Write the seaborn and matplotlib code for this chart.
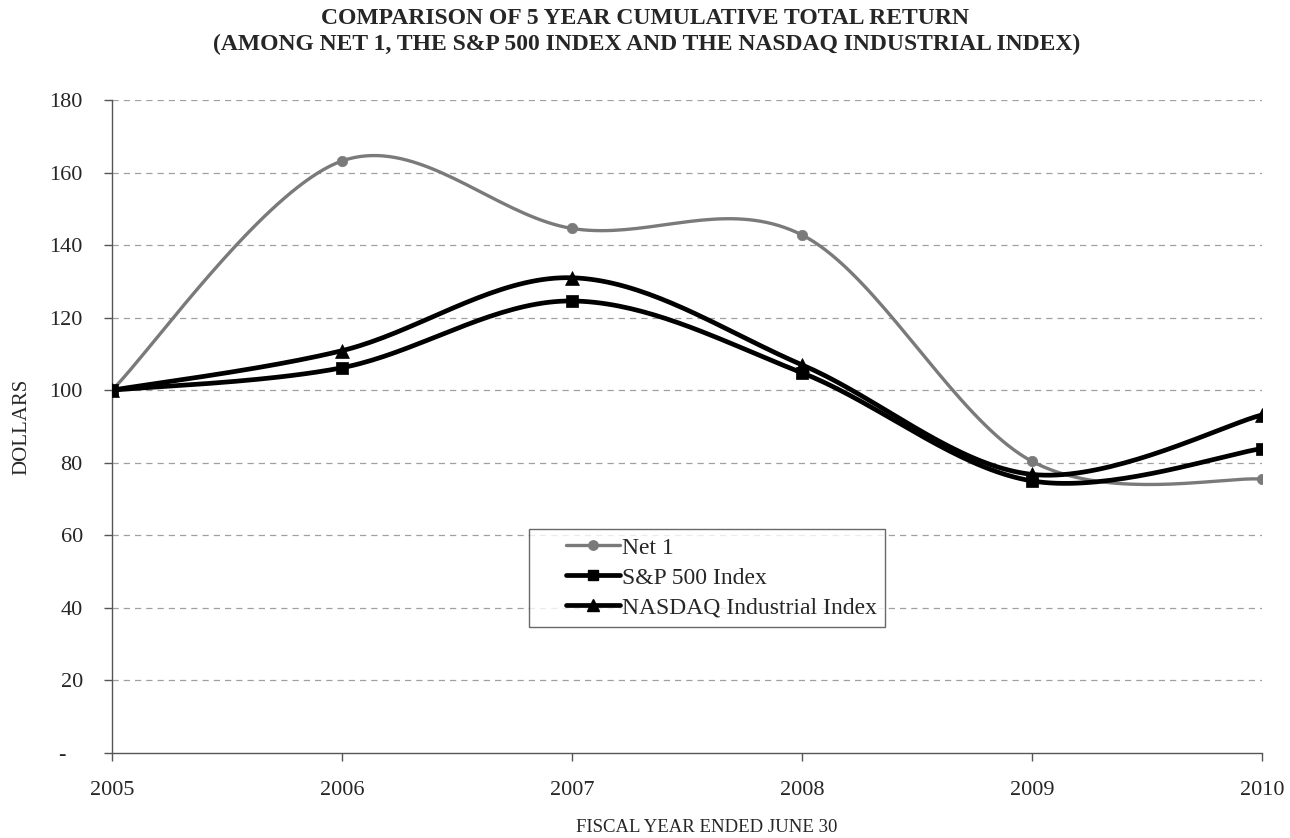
import numpy as np
import pandas as pd
import matplotlib
matplotlib.use("Agg")
import matplotlib.pyplot as plt
from matplotlib.lines import Line2D
from matplotlib.legend_handler import HandlerLine2D
import seaborn as sns

years = [2005, 2006, 2007, 2008, 2009, 2010]
net1 = [100.0, 163.2, 144.6, 142.8, 80.4, 75.5]
sp500 = [100.0, 106.2, 124.6, 104.8, 75.0, 83.9]
nasdaq = [100.0, 110.9, 131.0, 107.0, 76.8, 93.2]
series_names = ["Net 1", "S&P 500 Index", "NASDAQ Industrial Index"]
y_ticks = [0, 20, 40, 60, 80, 100, 120, 140, 160, 180]
y_tick_labels = ["-   ", "20", "40", "60", "80", "100", "120", "140", "160", "180"]

sns.set_theme(style="white")
plt.rcParams["font.family"] = ["Liberation Serif", "DejaVu Serif"]

def smooth(xs, ys, n=40):
    # Excel-like smoothed line (Bezier through the data points)
    xs = np.asarray(xs, float); ys = np.asarray(ys, float)
    px = np.concatenate([[xs[0]], xs, [xs[-1]]])
    py = np.concatenate([[ys[0]], ys, [ys[-1]]])
    ox, oy = [], []
    for i in range(1, len(px) - 2):
        p0, p1, p2, p3 = (np.array([px[j], py[j]]) for j in (i - 1, i, i + 1, i + 2))
        c1 = p1 + (p2 - p0) / 6.0
        c2 = p2 - (p3 - p1) / 6.0
        t = np.linspace(0, 1, n)[:, None]
        b = ((1 - t) ** 3) * p1 + 3 * ((1 - t) ** 2) * t * c1 + 3 * (1 - t) * t ** 2 * c2 + t ** 3 * p2
        ox.extend(b[:, 0]); oy.extend(b[:, 1])
    return np.array(ox), np.array(oy)

class PadHandler(HandlerLine2D):
    def get_xdata(self, legend, xdescent, ydescent, width, height, fontsize):
        pad = 0.34 * width
        xdata = np.linspace(-xdescent + pad, -xdescent + width, 2)
        xmark = np.array([-xdescent + pad + 0.5 * (width - pad)])
        return xdata, xmark

fig = plt.figure(figsize=(12.9, 8.38), dpi=100)
ax = fig.add_axes([112 / 1290, 1 - 753 / 838, 1150 / 1290, 653 / 838])

styles = {
    "Net 1": dict(color="#7a7a7a", lw=2.4, marker="o", ms=7.5),
    "S&P 500 Index": dict(color="black", lw=3.4, marker="s", ms=8.5),
    "NASDAQ Industrial Index": dict(color="black", lw=3.4, marker="^", ms=10),
}
data = {"Net 1": net1, "S&P 500 Index": sp500, "NASDAQ Industrial Index": nasdaq}

df = pd.DataFrame({"year": years * 3,
                   "value": net1 + sp500 + nasdaq,
                   "series": sum([[s] * len(years) for s in series_names], [])})

for name in series_names:
    st = styles[name]
    sx, sy = smooth(years, data[name])
    sns.lineplot(x=sx, y=sy, ax=ax, color=st["color"], lw=st["lw"], sort=False, zorder=3)
    sub = df[df["series"] == name]
    sns.scatterplot(data=sub, x="year", y="value", ax=ax, color=st["color"],
                    marker=st["marker"], s=st["ms"] ** 2, edgecolor=st["color"],
                    linewidth=0.5, zorder=4, legend=False)

ax.set_xlim(2005, 2010)
ax.set_ylim(0, 180)
ax.set_xticks(years)
ax.set_xticklabels([str(y) for y in years], fontsize=16)
ax.set_yticks(y_ticks)
ax.set_yticklabels(y_tick_labels, fontsize=16)
ax.tick_params(axis="both", which="both", direction="out", length=6, width=1,
               color="#555555", bottom=True, left=True)
ax.tick_params(axis="y", pad=15)
ax.tick_params(axis="x", pad=14)
for y in y_ticks[1:]:
    ax.axhline(y, color="#a0a0a0", lw=0.9, ls=(0, (5, 4)), zorder=1)
for side in ["top", "right"]:
    ax.spines[side].set_visible(False)
for side in ["left", "bottom"]:
    ax.spines[side].set_color("#555555")
    ax.spines[side].set_linewidth(1.0)

ax.set_xlabel("FISCAL YEAR ENDED JUNE 30", fontsize=13.5)
ax.xaxis.set_label_coords((707 - 112) / 1150, -(827 - 753) / 653)
ax.set_ylabel("DOLLARS", fontsize=15)
ax.yaxis.set_label_coords(-(112 - 22) / 1150, 0.5)
ax.xaxis.label.set_va("center")
ax.yaxis.label.set_va("center")

fig.text(645 / 1290, 1 - 19 / 838, "COMPARISON OF 5 YEAR CUMULATIVE TOTAL RETURN",
         ha="center", va="center", fontsize=17, fontweight="bold")
fig.text(647 / 1290, 1 - 44 / 838, "(AMONG NET 1, THE S&P 500 INDEX AND THE NASDAQ INDUSTRIAL INDEX)",
         ha="center", va="center", fontsize=17, fontweight="bold")

handles = [Line2D([], [], color=styles[n]["color"], lw=styles[n]["lw"], marker=styles[n]["marker"],
                  ms=styles[n]["ms"] * 0.9) for n in series_names]
leg = ax.legend(handles, series_names, loc="lower left", bbox_to_anchor=(0.363, 0.193),
                fontsize=17, frameon=True, fancybox=False, edgecolor="#444444",
                handlelength=3.5, handletextpad=0.05, borderpad=0.35, labelspacing=0.36,
                borderaxespad=0, handler_map={Line2D: PadHandler()})
leg.get_frame().set_linewidth(1.0)

fig.savefig("out.png", dpi=100)
